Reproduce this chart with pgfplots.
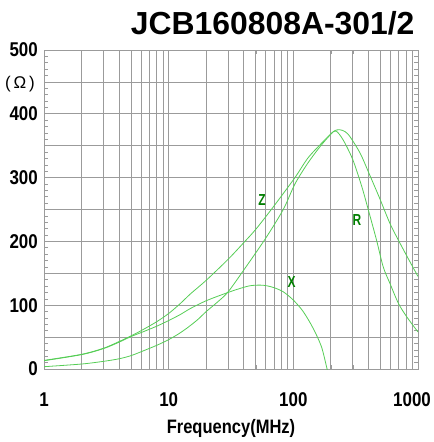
\documentclass[border=0pt]{standalone}
\usepackage{pgfplots}
\pgfplotsset{compat=1.18}
\usepackage{fontspec}
\setmainfont{Liberation Sans}
\newfontfamily\narrowbold[FakeStretch=0.85]{Liberation Sans Bold}
\newfontfamily\labfont[FakeStretch=0.75]{Liberation Sans Bold}
\definecolor{gridgray}{RGB}{155,155,155}
\definecolor{curvegreen}{RGB}{85,205,85}
\definecolor{lblgreen}{RGB}{0,125,0}
\pgfplotsset{impcurve/.style={curvegreen, line width=0.8bp, smooth, tension=0.5, mark=none}}

\begin{document}
\begin{tikzpicture}
\path[use as bounding box] (-44bp,-73bp) rectangle (390bp,369bp);
\begin{axis}[
    scale only axis,
    width  = 374bp,
    height = 319bp,
    at     = {(0,0)},
    anchor = south west,
    xmode  = log,
    xmin   = 1,
    xmax   = 1000,
    ymin   = 0,
    ymax   = 500,
    xtick  = {1,10,100,1000},
    xticklabels = {1,10,100,{\hspace*{-12bp}1000}},
    minor xtick = {2,3,4,5,6,7,8,9,20,30,40,50,60,70,80,90,200,300,400,500,600,700,800,900},
    ytick  = {0,100,200,300,400,500},
    yticklabels = {0,100,200,300,400,500},
    minor ytick = {10,20,30,40,60,70,80,90,110,120,130,140,160,170,180,190,210,220,230,240,260,270,280,290,310,320,330,340,360,370,380,390,410,420,430,440,460,470,480,490},
    extra y ticks = {50,150,250,350,450},
    extra y tick labels = {},
    extra y tick style = {grid=major},
    xmajorgrids, xminorgrids, ymajorgrids,
    yminorgrids = false,
    grid style = {gridgray, line width=0.8bp},
    minor grid style = {gridgray, line width=0.8bp},
    axis line style = {gridgray, line width=0.8bp},
    major tick length = 0pt,
    minor tick length = 4bp,
    tick style = {gridgray, line width=0.6bp},
    ticklabel style = {font=\narrowbold\fontsize{20}{20}\selectfont, inner sep=0pt},
    xticklabel style = {anchor=base, yshift=-37bp},
    yticklabel style = {anchor=east, xshift=-6bp},
    xlabel = {Frequency(MHz)},
    xlabel style = {at={(axis description cs:0.5,0)}, anchor=base, yshift=-64bp,
                    font=\narrowbold\fontsize{19.5}{19.5}\selectfont, inner sep=0pt},
  ]

  % Z
  \addplot[impcurve] coordinates {
    (1,13.5) (2,23) (3,32.5) (4,43) (5,52) (6,60) (8,74) (10,87) (12.3,102)
    (15,118) (20,139) (30,172) (40,198) (50,219) (69,254) (103,300) (130,330)
    (163,351) (209,372) (235,375) (260,372) (285,364) (344,338) (410,304)
    (494,267) (596,228) (696,202) (835,173) (1000,145)
  };

  % R
  \addplot[impcurve] coordinates {
    (1,3.6) (2,7.8) (3,12) (4,16) (5,21) (6,27) (8,37) (10,46) (12,55) (14,64)
    (17,77) (20,90) (25,106) (30,121) (40,155) (60,205) (83,250) (103,290)
    (130,322) (163,348) (200,368) (220,373) (251,359) (300,328) (354,286)
    (400,249) (465,202) (526,160) (596,134) (696,103) (811,82) (1000,58)
  };

  % X
  \addplot[impcurve] coordinates {
    (1,13) (2,22.5) (3,32) (4,42) (5,51) (6,57) (8,67) (10,76) (12.3,85)
    (15,95) (20,107) (29,119) (37,126) (45,130.5) (54,131.5) (61,130.5)
    (70,127.5) (83,121) (100,108) (120,90) (144,64) (168,35) (186,1) (195,-15)
  };

  \node[lblgreen, font=\labfont\fontsize{16}{16}\selectfont] at (axis cs:56,265) {Z};
  \node[lblgreen, font=\labfont\fontsize{16}{16}\selectfont] at (axis cs:97,136) {X};
  \node[lblgreen, font=\labfont\fontsize{16}{16}\selectfont] at (axis cs:324,233) {R};
\end{axis}

\node[anchor=base east, font=\bfseries\fontsize{32}{32}\selectfont] at (374bp,334bp) {JCB160808A-301/2};
\node[font=\fontsize{17}{17}\selectfont] at (-24bp,285bp) {(\,Ω\,)};
\end{tikzpicture}
\end{document}
